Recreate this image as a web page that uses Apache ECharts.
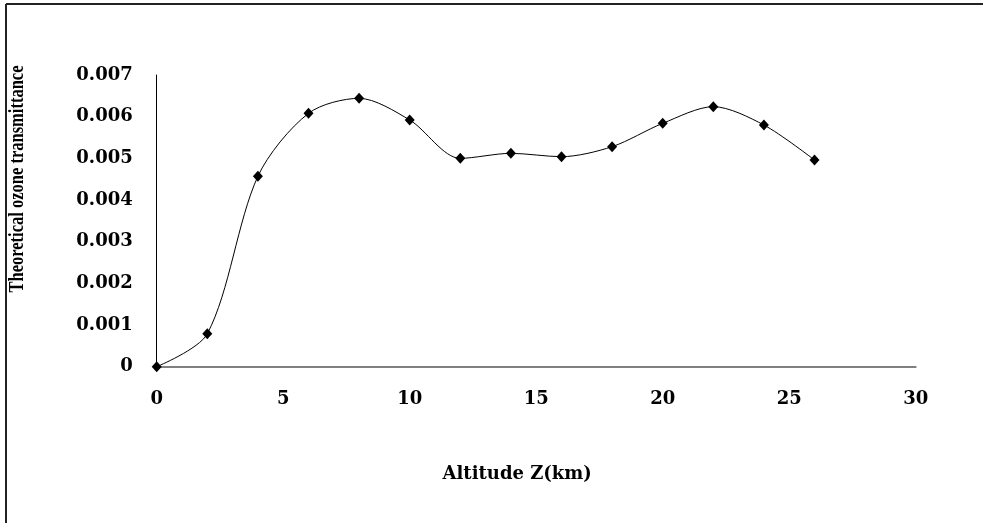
<!DOCTYPE html>
<html>
<head>
<meta charset="utf-8">
<script src="https://cdn.jsdelivr.net/npm/echarts@6/dist/echarts.min.js"></script>
<style>
html,body{margin:0;padding:0;background:#fff;}
#chart{width:983px;height:523px;}
</style>
</head>
<body>
<div id="chart"></div>
<script>
var altitudes = [0, 2, 4, 6, 8, 10, 12, 14, 16, 18, 20, 22, 24, 26];
var transmittance = [0, 0.00079, 0.00457, 0.00608, 0.00644, 0.00592, 0.00500, 0.00512, 0.00504, 0.00528, 0.00584, 0.00624, 0.00580, 0.00496];
var xTitle = 'Altitude Z(km)';
var yTitle = 'Theoretical ozone transmittance';

var points = altitudes.map(function (a, i) { return [a, transmittance[i]]; });

var labelFont = { fontFamily: '"DejaVu Serif", serif', fontWeight: 'bold', fontSize: 18, color: '#000' };

var chart = echarts.init(document.getElementById('chart'), null, { renderer: 'canvas' });
chart.setOption({
  animation: false,
  backgroundColor: '#fff',
  grid: { left: 156.7, right: 67.3, top: 75, bottom: 156.3, containLabel: false },
  xAxis: {
    type: 'value', min: 0, max: 30, interval: 5,
    axisLine: { show: true, onZero: false, lineStyle: { color: '#808080', width: 2 } },
    axisTick: { show: false },
    splitLine: { show: false },
    axisLabel: Object.assign({ margin: 24 }, labelFont),
    name: xTitle, nameLocation: 'middle', nameGap: 99,
    nameTextStyle: { fontFamily: '"DejaVu Serif", serif', fontWeight: 'bold', fontSize: 18, color: '#000', padding: [0, 38, 0, 0] }
  },
  yAxis: {
    type: 'value', min: 0, max: 0.007, interval: 0.001,
    axisLine: { show: true, lineStyle: { color: '#000', width: 1 } },
    axisTick: { show: false },
    splitLine: { show: false },
    axisLabel: Object.assign({ margin: 24 }, labelFont)
  },
  graphic: [
    { type: 'line', shape: { x1: 6, y1: 4, x2: 983, y2: 4 }, style: { stroke: '#222', lineWidth: 2 } },
    { type: 'line', shape: { x1: 6, y1: 4, x2: 6, y2: 523 }, style: { stroke: '#222', lineWidth: 2 } },
    { type: 'text', x: 17, y: 179, rotation: Math.PI / 2, scaleX: 1, scaleY: 1.3,
      style: { text: yTitle, font: 'bold 16.5px "Liberation Serif", "Times New Roman", serif', fill: '#000', textAlign: 'center', textVerticalAlign: 'middle' } }
  ],
  series: [{
    type: 'line',
    data: points,
    smooth: 0.3,
    symbol: 'diamond',
    symbolSize: [10, 11],
    lineStyle: { color: '#000', width: 1 },
    itemStyle: { color: '#000' }
  }]
});
</script>
</body>
</html>
